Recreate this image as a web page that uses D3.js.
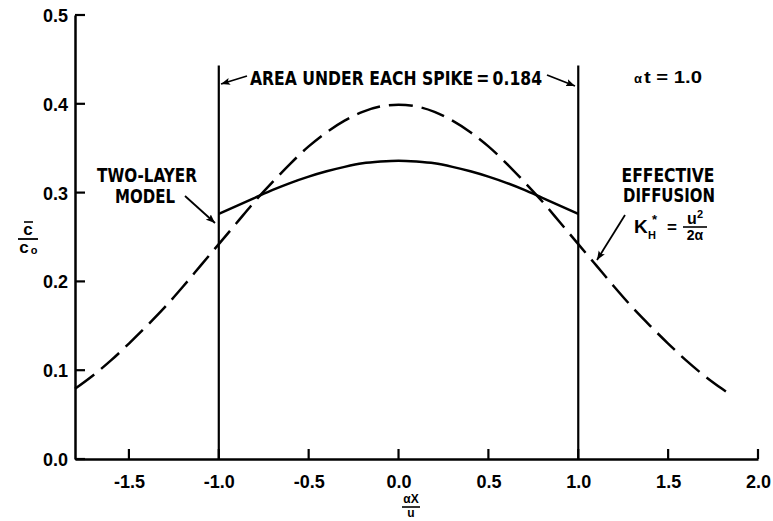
<!DOCTYPE html>
<html>
<head>
<meta charset="utf-8">
<script src="https://cdn.jsdelivr.net/npm/d3@7"></script>
<style>
  body { margin: 0; background: #fff; }
  svg { display: block; }
  text { font-family: "Liberation Sans", Arial, sans-serif; font-weight: bold; fill: #000; }
  .narrow { font-family: "Liberation Sans Narrow", "DejaVu Sans Condensed", "Liberation Sans", sans-serif; }
</style>
</head>
<body>
<div id="chart"></div>
<script>
// values
var dashX = [-1.8, -1.7, -1.6, -1.5, -1.4, -1.3, -1.2, -1.1, -1.0, -0.9, -0.8, -0.7, -0.6, -0.5, -0.4, -0.3, -0.2, -0.1,
             0.0, 0.1, 0.2, 0.3, 0.4, 0.5, 0.6, 0.7, 0.8, 0.9, 1.0, 1.1, 1.2, 1.3, 1.4, 1.5, 1.6, 1.7, 1.8, 1.85];
var dashY = [0.079, 0.094, 0.111, 0.130, 0.150, 0.171, 0.194, 0.218, 0.242, 0.266, 0.290, 0.312, 0.333, 0.352, 0.368, 0.381, 0.391, 0.397,
             0.399, 0.397, 0.391, 0.381, 0.368, 0.352, 0.333, 0.312, 0.290, 0.266, 0.242, 0.218, 0.194, 0.171, 0.150, 0.130, 0.111, 0.094, 0.079, 0.072];

var solidX = [-1.0, -0.9, -0.8, -0.7, -0.6, -0.5, -0.4, -0.3, -0.2, -0.1, 0.0, 0.1, 0.2, 0.3, 0.4, 0.5, 0.6, 0.7, 0.8, 0.9, 1.0];
var solidY = [0.276, 0.285, 0.294, 0.303, 0.311, 0.318, 0.324, 0.329, 0.333, 0.335, 0.336, 0.335, 0.333, 0.329, 0.324, 0.318, 0.311, 0.303, 0.294, 0.285, 0.276];

var spikeX = [-1.0, 1.0];
var spikeTop = 0.443;

var xTicks = [-1.5, -1.0, -0.5, 0.0, 0.5, 1.0, 1.5, 2.0];
var yTicks = [0.0, 0.1, 0.2, 0.3, 0.4, 0.5];

var svgWidth = 773, svgHeight = 521;
var margin = { top: 15, right: 15, bottom: 62, left: 75 };
var width = svgWidth - margin.left - margin.right;
var height = svgHeight - margin.top - margin.bottom;

var svg = d3.select("#chart").append("svg")
  .attr("width", svgWidth)
  .attr("height", svgHeight);

var g = svg.append("g")
  .attr("transform", `translate(${margin.left}, ${margin.top})`);

var x = d3.scaleLinear().domain([-1.8, 2.0]).range([0, width]);
var y = d3.scaleLinear().domain([0, 0.5]).range([height, 0]);

// axes: labels from d3, tick marks drawn inward below
var xAxis = d3.axisBottom(x).tickValues(xTicks).tickSize(0).tickPadding(16)
  .tickFormat(d3.format(".1f"));
var yAxis = d3.axisLeft(y).tickValues(yTicks).tickSize(0).tickPadding(7)
  .tickFormat(d3.format(".1f"));

var gx = g.append("g").attr("transform", `translate(0, ${height})`).call(xAxis);
var gy = g.append("g").call(yAxis);

[gx, gy].forEach(function(a) {
  a.select(".domain").attr("stroke", "#000").attr("stroke-width", 2.5);
  a.selectAll(".tick text").attr("font-size", 18).attr("font-family", "Liberation Sans, Arial, sans-serif")
    .attr("font-weight", "bold").attr("fill", "#000");
});
gx.selectAll(".tick text").text(d => d3.format(".1f")(d).replace("−", "-"));
gy.selectAll(".tick text").attr("dy", "0.36em");

g.selectAll(".xtick").data(xTicks).enter().append("line")
  .attr("class", "xtick")
  .attr("x1", d => x(d)).attr("x2", d => x(d))
  .attr("y1", height).attr("y2", height - 10)
  .attr("stroke", "#000").attr("stroke-width", 2.2);
g.selectAll(".ytick").data(yTicks).enter().append("line")
  .attr("class", "ytick")
  .attr("x1", 0).attr("x2", 10)
  .attr("y1", d => y(d)).attr("y2", d => y(d))
  .attr("stroke", "#000").attr("stroke-width", 2.2);

// curves
var line = d3.line().x(d => x(d[0])).y(d => y(d[1])).curve(d3.curveMonotoneX);

g.append("path")
  .datum(dashX.map((v, i) => [v, dashY[i]]))
  .attr("d", line)
  .attr("fill", "none")
  .attr("stroke", "#000")
  .attr("stroke-width", 2.5)
  .attr("stroke-dasharray", "24,9");

g.append("path")
  .datum(solidX.map((v, i) => [v, solidY[i]]))
  .attr("d", line)
  .attr("fill", "none")
  .attr("stroke", "#000")
  .attr("stroke-width", 2.5);

// spikes
g.selectAll(".spike").data(spikeX).enter().append("line")
  .attr("class", "spike")
  .attr("x1", d => x(d)).attr("x2", d => x(d))
  .attr("y1", y(0)).attr("y2", y(spikeTop))
  .attr("stroke", "#000").attr("stroke-width", 2.2);

// arrow heads
var defs = svg.append("defs");
defs.append("marker")
  .attr("id", "arrow")
  .attr("viewBox", "0 0 10 10")
  .attr("refX", 10).attr("refY", 5)
  .attr("markerWidth", 9).attr("markerHeight", 9)
  .attr("markerUnits", "userSpaceOnUse")
  .attr("orient", "auto")
  .append("path").attr("d", "M0,1 L10,5 L0,9 L2,5 Z").attr("fill", "#000");

function arrow(x1, y1, x2, y2) {
  svg.append("line")
    .attr("x1", x1).attr("y1", y1).attr("x2", x2).attr("y2", y2)
    .attr("stroke", "#000").attr("stroke-width", 1.8)
    .attr("marker-end", "url(#arrow)");
}

function label(txt, cx, by, size, len) {
  var t = svg.append("text").attr("class", "narrow")
    .attr("x", cx).attr("y", by)
    .attr("text-anchor", "middle")
    .style("font-size", size + "px")
    .text(txt);
  if (len) t.attr("textLength", len).attr("lengthAdjust", "spacingAndGlyphs");
  return t;
}

function txt(s, tx, ty, size, anchor) {
  return svg.append("text").attr("x", tx).attr("y", ty)
    .attr("text-anchor", anchor || "start")
    .style("font-size", size + "px")
    .text(s);
}

// annotations
label("AREA UNDER EACH SPIKE\u2009=\u20090.184", 396, 85, 19, 292);
arrow(247, 76, 221, 84);
arrow(547, 75, 575, 86);

txt("α", 634, 83, 13);
txt("t = 1.0", 644, 83, 16).attr("textLength", 58).attr("lengthAdjust", "spacingAndGlyphs");

label("TWO-LAYER", 147, 182, 19, 100);
label("MODEL", 145, 203, 19, 60);
arrow(185, 196, 215, 223);

label("EFFECTIVE", 668, 182, 19, 93);
label("DIFFUSION", 669, 202, 19, 92);
arrow(625, 215, 597, 260);

// K_H* = u^2 / 2a
txt("K", 634, 233, 19);
txt("H", 648, 239, 11);
txt("*", 652, 224, 13);
txt("=", 667, 233, 17);
txt("u", 687, 224, 16);
txt("2", 697, 218, 11);
svg.append("line").attr("x1", 683).attr("x2", 707).attr("y1", 227).attr("y2", 227).attr("stroke", "#000").attr("stroke-width", 1.6);
txt("2α", 695, 240, 14, "middle");

// axis titles as fractions
txt("c", 28, 235, 17, "middle");
svg.append("line").attr("x1", 24).attr("x2", 33).attr("y1", 222).attr("y2", 222).attr("stroke", "#000").attr("stroke-width", 1.6);
svg.append("line").attr("x1", 18).attr("x2", 38).attr("y1", 239).attr("y2", 239).attr("stroke", "#000").attr("stroke-width", 1.8);
txt("c", 24, 253, 17, "middle");
txt("o", 34, 254, 11, "middle");

txt("αX", 411, 503, 12, "middle");
svg.append("line").attr("x1", 402).attr("x2", 420).attr("y1", 507).attr("y2", 507).attr("stroke", "#000").attr("stroke-width", 1.6);
txt("u", 411, 517, 12, "middle");
</script>
</body>
</html>
